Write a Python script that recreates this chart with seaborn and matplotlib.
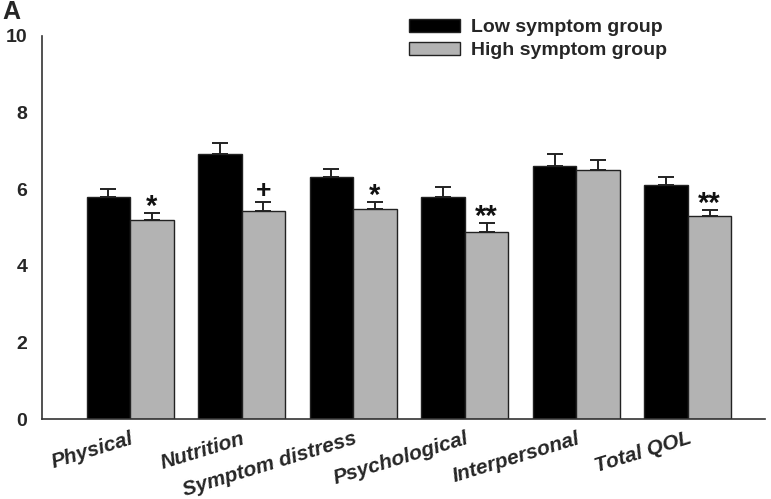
import matplotlib
matplotlib.use("Agg")
import matplotlib.pyplot as plt
import seaborn as sns
import pandas as pd

categories = ["Physical", "Nutrition", "Symptom distress", "Psychological", "Interpersonal", "Total QOL"]
groups = ["Low symptom group", "High symptom group"]
low_means = [5.80, 6.92, 6.32, 5.80, 6.60, 6.11]
high_means = [5.20, 5.42, 5.48, 4.88, 6.50, 5.30]
low_se = [0.20, 0.28, 0.21, 0.26, 0.32, 0.21]
high_se = [0.18, 0.24, 0.19, 0.24, 0.26, 0.16]
marks = ["*", "+", "*", "**", "", "**"]

df = pd.DataFrame({
    "domain": categories * 2,
    "group": [groups[0]] * len(categories) + [groups[1]] * len(categories),
    "score": low_means + high_means,
    "se": low_se + high_se,
})

sns.set_style("white")
plt.rcParams["font.family"] = ["Liberation Sans", "DejaVu Sans"]

fig = plt.figure(figsize=(7.71, 4.99), dpi=100)
ax = fig.add_axes([0.0545, 0.160, 0.9375, 0.768])

sns.barplot(data=df, x="domain", y="score", hue="group", order=categories,
            hue_order=groups, palette=["#000000", "#b3b3b3"], width=0.78,
            edgecolor="#222222", linewidth=1.0, errorbar=None, ax=ax)

# error bars (upper only) on top of each bar
bars = ax.patches[:2 * len(categories)]
for i, b in enumerate(bars):
    xc = b.get_x() + b.get_width() / 2
    h = b.get_height()
    err = df["se"].iloc[i]
    ax.errorbar(xc, h, yerr=[[0], [err]], fmt="none", ecolor="#222222",
                elinewidth=1.4, capsize=6, capthick=1.4)
    if i >= len(categories):
        m = marks[i - len(categories)]
        if m:
            if m == "+":
                ax.text(xc, h + err - 0.02, "+", ha="center", va="bottom",
                        fontsize=19, fontweight="bold", color="#111111")
            else:
                ax.text(xc, h + err - 0.2, m, ha="center", va="bottom",
                        fontsize=21, fontweight="bold", color="#111111")

ax.set_ylim(0, 10)
ax.set_xlim(-0.79, 5.69)
ax.set_yticks([0, 2, 4, 6, 8, 10])
ax.set_xlabel("")
ax.set_ylabel("")
for s in ["top", "right"]:
    ax.spines[s].set_visible(False)
for s in ["left", "bottom"]:
    ax.spines[s].set_color("#333333")
    ax.spines[s].set_linewidth(1.2)
ax.tick_params(axis="y", direction="inout", length=9, width=1.1, color="#333333",
               labelsize=14, pad=6)
ax.tick_params(axis="x", length=0, labelsize=15, pad=7)
for t in ax.get_yticklabels():
    t.set_fontweight("bold")
for t in ax.get_xticklabels():
    t.set_fontweight("bold")
    t.set_fontstyle("italic")
    t.set_rotation(17)
    t.set_ha("right")
    t.set_va("top")
    t.set_rotation_mode("anchor")

leg = ax.legend(loc="upper left", bbox_to_anchor=(0.508, 1.045), frameon=False,
                fontsize=14, handlelength=2.6, handleheight=0.65,
                handletextpad=0.6, labelspacing=0.3, borderpad=0,
                borderaxespad=0)
for t in leg.get_texts():
    t.set_fontweight("bold")

fig.text(0.003, 0.975, "A", fontsize=18, fontweight="bold", va="center")

fig.savefig("out.png", dpi=100)
